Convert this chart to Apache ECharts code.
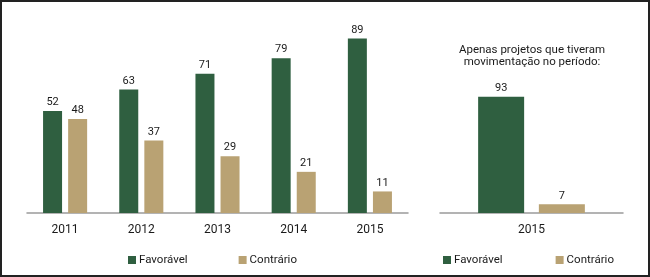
<!DOCTYPE html>
<html>
<head>
<meta charset="utf-8">
<script src="https://cdn.jsdelivr.net/npm/echarts@6/dist/echarts.min.js"></script>
<style>
  html, body { margin: 0; padding: 0; background: #fff; }
  #wrap { position: relative; width: 650px; height: 277px; }
  #chart { position: absolute; left: 0; top: 0; width: 650px; height: 277px; }
  #frame { position: absolute; left: 0; top: 0; width: 650px; height: 277px;
           box-sizing: border-box; border: 2px solid #222; pointer-events: none; }
</style>
</head>
<body>
<div id="wrap">
  <div id="chart"></div>
  <div id="frame"></div>
</div>
<script>
// anos e valores (%)
const years = ['2011', '2012', '2013', '2014', '2015'];
const favoravel = [52, 63, 71, 79, 89];
const contrario = [48, 37, 29, 21, 11];

// só projetos com movimentação
const yearsMov = ['2015'];
const favoravelMov = [93];
const contrarioMov = [7];

const seriesNames = ['Favorável', 'Contrário'];
const titleMov = 'Apenas projetos que tiveram\nmovimentação no período:';

const green = '#2f5f40';
const tan = '#b9a273';
const fontFamily = 'Roboto, "Noto Sans", sans-serif';

const myChart = echarts.init(document.getElementById('chart'));

const labelStyle = {
  show: true,
  position: 'top',
  distance: 3,
  color: '#1a1a1a',
  fontSize: 11,
  fontFamily: fontFamily,
};

const xAxisBase = {
  type: 'category',
  axisLine: { lineStyle: { color: '#9a9a9a', width: 1.5 } },
  axisTick: { show: false },
  axisLabel: { color: '#1a1a1a', fontSize: 12, fontFamily: fontFamily, margin: 11 },
};

const yAxisBase = {
  type: 'value',
  min: 0,
  max: 100,
  show: false,
  splitLine: { show: false },
};

const legendBase = {
  data: seriesNames,
  top: 254,
  padding: 0,
  itemWidth: 8,
  itemHeight: 8,
  icon: 'rect',
  textStyle: { color: '#1a1a1a', fontSize: 11.5, fontFamily: fontFamily, padding: [0, 0, 0, -2] },
};

const option = {
  animation: false,
  backgroundColor: '#fff',
  title: {
    text: titleMov,
    left: 532,
    top: 44,
    padding: 0,
    textAlign: 'center',
    textStyle: {
      color: '#1a1a1a',
      fontSize: 11.5,
      fontWeight: 'normal',
      lineHeight: 12,
      fontFamily: fontFamily,
    },
  },
  legend: [
    Object.assign({}, legendBase, { left: 128, itemGap: 51 }),
    Object.assign({}, legendBase, { left: 443, itemGap: 53 }),
  ],
  grid: [
    { left: 27, top: 17, width: 381, height: 196 },
    { left: 440, top: 88, width: 183, height: 125 },
  ],
  xAxis: [
    Object.assign({}, xAxisBase, { gridIndex: 0, data: years }),
    Object.assign({}, xAxisBase, { gridIndex: 1, data: yearsMov }),
  ],
  yAxis: [
    Object.assign({}, yAxisBase, { gridIndex: 0 }),
    Object.assign({}, yAxisBase, { gridIndex: 1 }),
  ],
  series: [
    {
      name: seriesNames[0],
      type: 'bar',
      xAxisIndex: 0,
      yAxisIndex: 0,
      barWidth: 19,
      barGap: '32%',
      itemStyle: { color: green },
      label: labelStyle,
      data: favoravel,
    },
    {
      name: seriesNames[1],
      type: 'bar',
      xAxisIndex: 0,
      yAxisIndex: 0,
      barWidth: 19,
      barGap: '32%',
      itemStyle: { color: tan },
      label: labelStyle,
      data: contrario,
    },
    {
      name: seriesNames[0],
      type: 'bar',
      xAxisIndex: 1,
      yAxisIndex: 1,
      barWidth: 46,
      barGap: '32%',
      itemStyle: { color: green },
      label: labelStyle,
      data: favoravelMov,
    },
    {
      name: seriesNames[1],
      type: 'bar',
      xAxisIndex: 1,
      yAxisIndex: 1,
      barWidth: 46,
      barGap: '32%',
      itemStyle: { color: tan },
      label: labelStyle,
      data: contrarioMov,
    },
  ],
};
myChart.setOption(option);
</script>
</body>
</html>
